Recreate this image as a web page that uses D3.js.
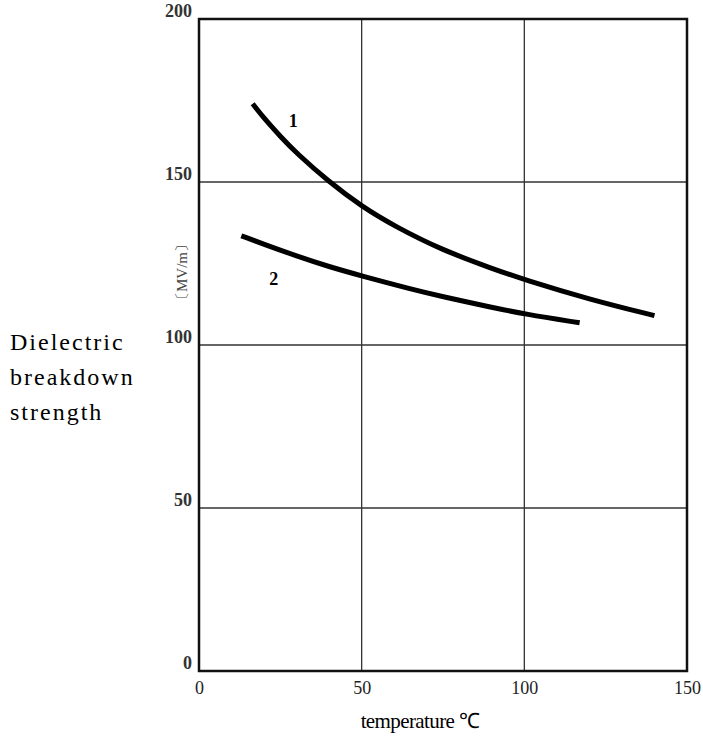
<!DOCTYPE html>
<html><head><meta charset="utf-8">
<script src="https://cdn.jsdelivr.net/npm/d3@7/dist/d3.min.js"></script>
<style>body{margin:0;background:#fff}</style>
</head><body>
<svg id="c" width="703" height="740"></svg>
<script>
const xTicks = [0, 50, 100, 150];
const yTicks = [0, 50, 100, 150, 200];
const curve1Temp = [16.5, 20, 25, 30, 40, 50, 60, 75, 90, 100, 120, 140];
const curve1Val  = [174, 169.5, 164, 158.8, 150, 142.5, 136.5, 129, 123.5, 120, 114, 109];
const curve2Temp = [13, 20, 30, 40, 50, 65, 75, 90, 100, 117];
const curve2Val  = [133.5, 130.9, 127.3, 124, 121.2, 117.2, 114.8, 111.5, 109.5, 106.8];
const curveLabels = ["1", "2"];
const labelPos = [[29, 167], [23, 118.5]];

const svg = d3.select("#c");
const x = d3.scaleLinear().domain([0, 150]).range([199, 687]);
const y = d3.scaleLinear().domain([0, 200]).range([671, 19]);

// grid
svg.append("g").selectAll("line").data(xTicks.slice(1, -1)).join("line")
  .attr("x1", d => x(d)).attr("x2", d => x(d)).attr("y1", y(200)).attr("y2", y(0))
  .attr("stroke", "#333").attr("stroke-width", 1.3);
svg.append("g").selectAll("line").data(yTicks.slice(1, -1)).join("line")
  .attr("x1", x(0)).attr("x2", x(150)).attr("y1", d => y(d)).attr("y2", d => y(d))
  .attr("stroke", "#333").attr("stroke-width", 1.3);

// frame
svg.append("rect").attr("x", x(0)).attr("y", y(200)).attr("width", x(150) - x(0)).attr("height", y(0) - y(200))
  .attr("fill", "none").attr("stroke", "#111").attr("stroke-width", 2.5);

const xAxis = svg.append("g").attr("transform", `translate(0,${y(0)})`)
  .call(d3.axisBottom(x).tickValues(xTicks).tickSize(0).tickPadding(10));
xAxis.select(".domain").remove();
xAxis.selectAll("text").attr("font-family", "Liberation Serif, serif").attr("font-size", 18).attr("fill", "#222");

const yAxis = svg.append("g").attr("transform", `translate(${x(0)},0)`)
  .call(d3.axisLeft(y).tickValues(yTicks).tickSize(0).tickPadding(7));
yAxis.select(".domain").remove();
yAxis.selectAll("text").attr("font-family", "Liberation Serif, serif").attr("font-size", 18).attr("font-weight", "bold").attr("fill", "#333").attr("dy", "-0.15em");

// curves
const line = d3.line().x(d => x(d[0])).y(d => y(d[1])).curve(d3.curveBasis);
[d3.zip(curve1Temp, curve1Val), d3.zip(curve2Temp, curve2Val)].forEach(pts => {
  svg.append("path").datum(pts).attr("d", line)
    .attr("fill", "none").attr("stroke", "#000").attr("stroke-width", 5).attr("stroke-linecap", "butt");
});

svg.append("g").selectAll("text").data(curveLabels).join("text")
  .attr("x", (d, i) => x(labelPos[i][0])).attr("y", (d, i) => y(labelPos[i][1]))
  .attr("text-anchor", "middle").attr("font-family", "Liberation Serif, serif").attr("font-size", 18).attr("font-weight", "bold")
  .text(d => d);

// titles
svg.append("text").attr("x", 420).attr("y", 728).attr("text-anchor", "middle")
  .attr("font-family", "Liberation Serif, serif").attr("font-size", 21).attr("letter-spacing", "-0.6")
  .text("temperature ℃");

const yt = svg.append("text").attr("font-family", "Liberation Serif, serif").attr("font-size", 24).attr("letter-spacing", "2");
["Dielectric", "breakdown", "strength"].forEach((t, i) => yt.append("tspan").attr("x", 10).attr("y", 350 + i * 35).text(t));

svg.append("text").attr("transform", "translate(187,272) rotate(-90)").attr("text-anchor", "middle")
  .attr("font-family", "Liberation Serif, serif").attr("font-size", 15).attr("fill", "#444")
  .text("〔MV/m〕");
</script>
</body></html>
